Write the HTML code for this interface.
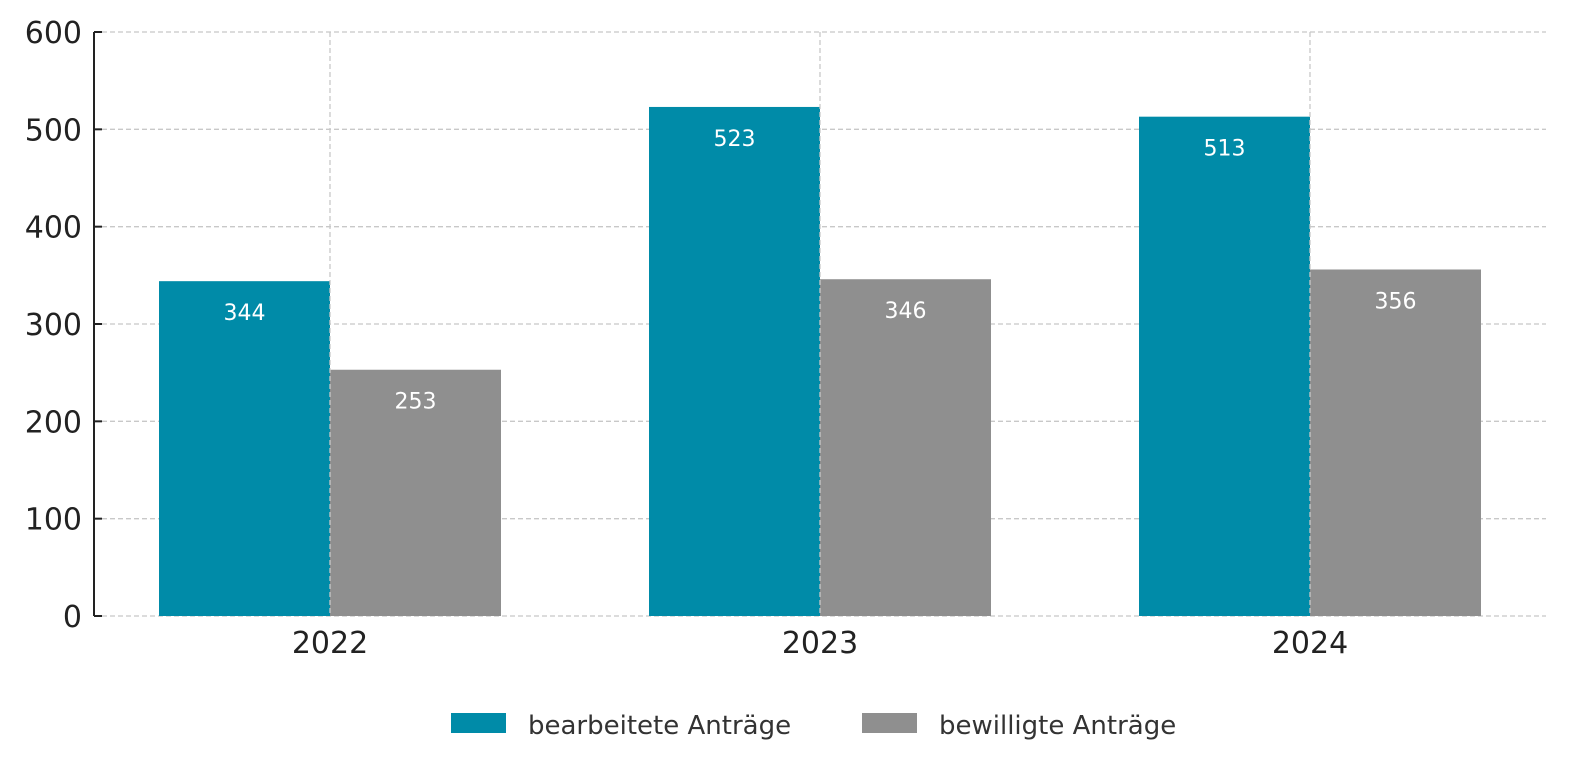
<!DOCTYPE html>
<html><head><meta charset="utf-8"><style>
body{margin:0;background:#fff}
svg text{font-family:"DejaVu Sans","Liberation Sans",sans-serif}
</style></head><body>
<svg id="chart" width="1580" height="776" xmlns="http://www.w3.org/2000/svg">
<g id="grid"></g>
<g id="bars"></g>
<g id="vgrid"></g>
<g id="labels"></g>
<g id="axes"></g>
<g>
<rect x="451" y="713" width="55" height="20" fill="#008ba8"/>
<text x="528" y="734" font-size="26" fill="#333">bearbeitete Anträge</text>
<rect x="862" y="713" width="55" height="20" fill="#8f8f8f"/>
<text x="939" y="734" font-size="26" fill="#333">bewilligte Anträge</text>
</g>
</svg>
<script>
const categories=["2022","2023","2024"];
const processed=[344,523,513];
const approved=[253,346,356];
const yTicks=[0,100,200,300,400,500,600];
const NS="http://www.w3.org/2000/svg";
const x0=94,x1=1546,yBase=616,yTop=32,yMax=600;
const y=v=>yBase-(v/yMax)*(yBase-yTop);
const cx=i=>330+i*490;
const bw=171;
function mk(parent,tag,attrs,txt){const e=document.createElementNS(NS,tag);for(const k in attrs)e.setAttribute(k,attrs[k]);if(txt!==undefined)e.textContent=txt;document.getElementById(parent).appendChild(e);return e;}
yTicks.forEach(t=>{
 const l=mk("grid","line",{x1:x0,x2:x1,y1:y(t),y2:y(t),stroke:"#c8c8c8","stroke-width":1.3,"stroke-dasharray":"5,3"});
 
 
 const tk=mk("axes","line",{x1:x0,x2:x0+8,y1:y(t),y2:y(t),stroke:"#222","stroke-width":2});
 
 
 const tl=mk("axes","text",{x:82,y:y(t)+11,"font-size":30,fill:"#222","text-anchor":"end"},t);
 
 
});
categories.forEach((c,i)=>{
 const r1=mk("bars","rect",{x:cx(i)-bw,y:y(processed[i]),width:bw,height:yBase-y(processed[i]),fill:"#008ba8"});
 
 
 const r2=mk("bars","rect",{x:cx(i),y:y(approved[i]),width:bw,height:yBase-y(approved[i]),fill:"#8f8f8f"});
 
 
 const vg=mk("vgrid","line",{x1:cx(i),x2:cx(i),y1:yTop,y2:yBase,stroke:"#c8c8c8","stroke-width":1.3,"stroke-dasharray":"5,3"});
 
 
 const l1=mk("labels","text",{x:cx(i)-bw/2,y:y(processed[i])+39,"font-size":22,fill:"#fff","text-anchor":"middle"},processed[i]);
 
 
 const l2=mk("labels","text",{x:cx(i)+bw/2,y:y(approved[i])+39,"font-size":22,fill:"#fff","text-anchor":"middle"},approved[i]);
 
 
 const xl=mk("axes","text",{x:cx(i),y:653,"font-size":30,fill:"#222","text-anchor":"middle"},c);
 
 
});
const ax=mk("axes","line",{x1:x0,x2:x0,y1:yTop,y2:yBase,stroke:"#222","stroke-width":2});


</script>
</body></html>
